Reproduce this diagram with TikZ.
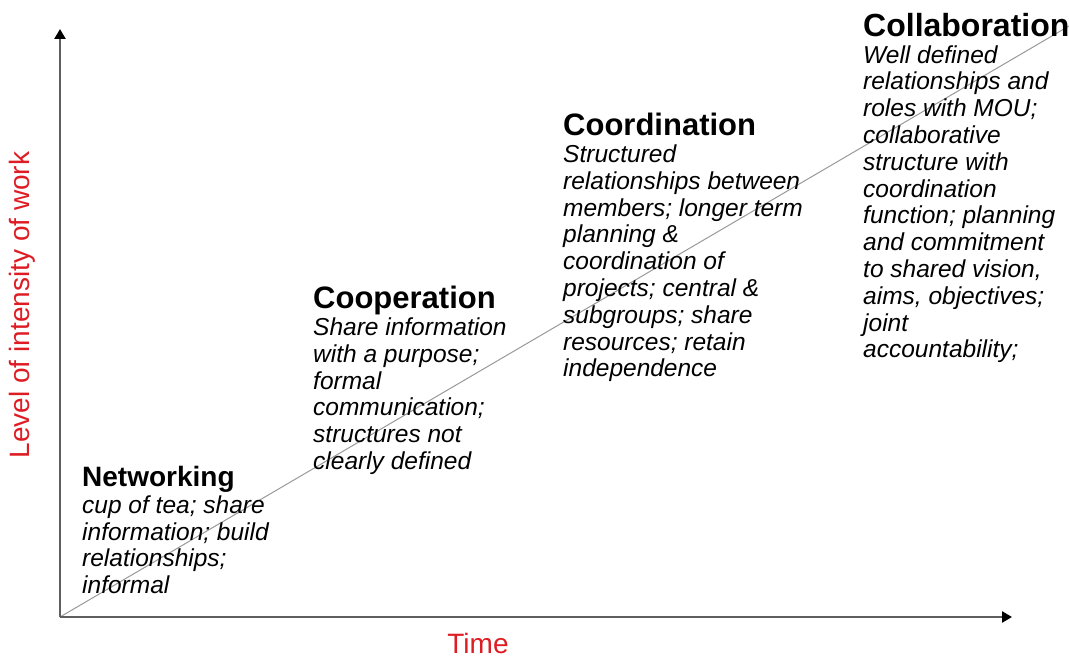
\documentclass[tikz,border=0pt]{standalone}
\usepackage{fontspec}
\setmainfont{Liberation Sans}
\usetikzlibrary{arrows.meta}
\definecolor{axisred}{RGB}{222,28,36}
\definecolor{axisgray}{RGB}{95,95,95}
\tikzset{
  axis/.style={draw=axisgray, line width=2.8pt, -{Triangle[length=10pt,width=11pt,color=black]}},
  diag/.style={draw=gray!80, line width=1pt},
  stage/.style={anchor=north west, inner sep=0pt, align=left, text=black,
    font=\fontsize{24.5}{26.8}\selectfont\itshape},
  axlabel/.style={text=axisred, inner sep=0pt, font=\fontsize{28}{30}\selectfont}
}
\newcommand{\stagetitle}[2]{{\fontsize{#1}{26.8}\selectfont\bfseries\upshape #2}}
\begin{document}
\begin{tikzpicture}[x=1pt,y=-1pt]
\useasboundingbox (0,0) rectangle (1069,660);
\coordinate (o) at (60,617);
\coordinate (ytop) at (60,29);
\coordinate (xend) at (1012,617);
\coordinate (dend) at (1069,26);
\draw[diag] (o) -- (dend);
\draw[axis] (o) -- (ytop);
\draw[axis] (o) -- (xend);
\node[axlabel, rotate=90] (ylab) at (22,305) {Level of intensity of work};
\node[axlabel] (xlab) at (478,643) {Time};
\node[stage] (net) at (82,466) {\stagetitle{28}{Networking}\\cup of tea; share\\information; build\\relationships;\\informal};
\node[stage] (coop) at (313,286) {\stagetitle{31}{Cooperation}\\Share information\\with a purpose;\\formal\\communication;\\structures not\\clearly defined};
\node[stage] (coord) at (563,113) {\stagetitle{31}{Coordination}\\Structured\\relationships between\\members; longer term\\planning \&\\coordination of\\projects; central \&\\subgroups; share\\resources; retain\\independence};
\node[stage] (coll) at (863,13) {\stagetitle{32}{Collaboration}\\Well defined\\relationships and\\roles with MOU;\\collaborative\\structure with\\coordination\\function; planning\\and commitment\\to shared vision,\\aims, objectives;\\joint\\accountability;};
\end{tikzpicture}
\end{document}
